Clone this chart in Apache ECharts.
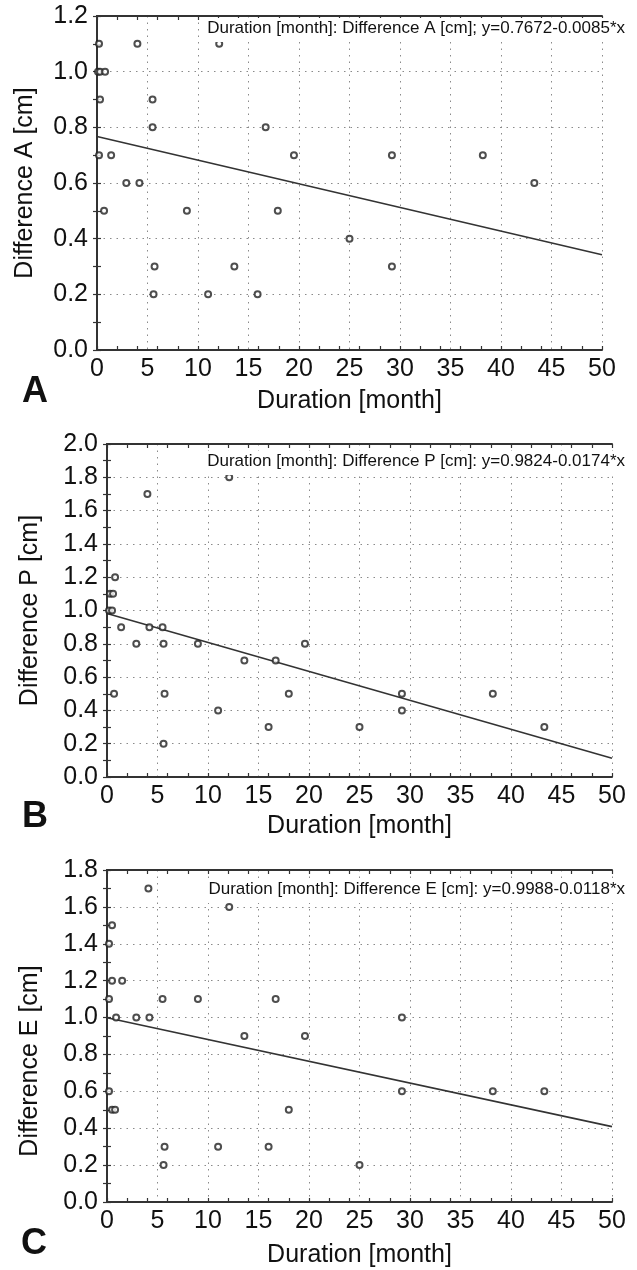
<!DOCTYPE html>
<html><head><meta charset="utf-8">
<script src="https://cdn.jsdelivr.net/npm/echarts@6/dist/echarts.min.js"></script>
<style>html,body{margin:0;padding:0;background:#fff}#c{width:637px;height:1270px}</style>
</head><body><div id="c"></div>
<script>
// ---------- DATA ----------
const xTicks = [0, 5, 10, 15, 20, 25, 30, 35, 40, 45, 50];
const xName = 'Duration [month]';

// Panel A
const durationA = [0.2, 4.0, 12.1, 0.1, 0.3, 0.8, 0.3, 5.5, 5.5, 16.7, 0.2, 1.4, 19.5, 29.2, 38.2, 2.9, 4.2, 43.3, 0.7, 8.9, 17.9, 25.0, 5.7, 13.6, 29.2, 5.6, 11.0, 15.9];
const diffA     = [1.1, 1.1, 1.1, 1.0, 1.0, 1.0, 0.9, 0.9, 0.8, 0.8, 0.7, 0.7, 0.7, 0.7, 0.7, 0.6, 0.6, 0.6, 0.5, 0.5, 0.5, 0.4, 0.3, 0.3, 0.3, 0.2, 0.2, 0.2];
const fitA = ['0.7672', '0.0085'];   // intercept, slope (y = a - b*x)

// Panel B
const durationB = [12.1, 4.0, 0.8, 0.3, 0.6, 0.2, 0.5, 1.4, 4.2, 5.5, 2.9, 5.6, 9.0, 19.6, 13.6, 16.7, 0.7, 5.7, 18.0, 29.2, 38.2, 11.0, 29.2, 16.0, 25.0, 43.3, 5.6];
const diffB     = [1.8, 1.7, 1.2, 1.1, 1.1, 1.0, 1.0, 0.9, 0.9, 0.9, 0.8, 0.8, 0.8, 0.8, 0.7, 0.7, 0.5, 0.5, 0.5, 0.5, 0.5, 0.4, 0.4, 0.3, 0.3, 0.3, 0.2];
const fitB = ['0.9824', '0.0174'];

// Panel C
const durationC = [4.1, 12.1, 0.5, 0.2, 0.5, 1.5, 0.2, 5.5, 9.0, 16.7, 0.9, 2.9, 4.2, 29.2, 13.6, 19.6, 0.2, 29.2, 38.2, 43.3, 0.5, 0.8, 18.0, 5.7, 11.0, 16.0, 5.6, 25.0];
const diffC     = [1.7, 1.6, 1.5, 1.4, 1.2, 1.2, 1.1, 1.1, 1.1, 1.1, 1.0, 1.0, 1.0, 1.0, 0.9, 0.9, 0.6, 0.6, 0.6, 0.6, 0.5, 0.5, 0.5, 0.3, 0.3, 0.3, 0.2, 0.2];
const fitC = ['0.9988', '0.0118'];

const panelLetters = ['A', 'B', 'C'];
const yNames = ['Difference A [cm]', 'Difference P [cm]', 'Difference E [cm]'];
const fitNames = ['Difference A [cm];', 'Difference P [cm]:', 'Difference E [cm]:'];
const yMaxes = [1.2, 2.0, 1.8];

// ---------- LAYOUT / STYLE ----------
const FONT = "'Liberation Sans', Arial, sans-serif";
const AX = '#333';
const layout = [
  {left: 97,  top: 16,  height: 334, xGap: 39, yGap: 59.5, yPad: [0,0,0,0], titleTop: 18, letter: [35, 392]},
  {left: 107, top: 444, height: 333, xGap: 36.5, yGap: 64, yPad: [0,0,0,0], titleTop: 451, letter: [35, 817]},
  {left: 107, top: 870, height: 332, xGap: 40.5, yGap: 64, yPad: [0,50,0,0], titleTop: 879, letter: [34, 1244]}
];
const PW = 505;

const xs = [durationA, durationB, durationC];
const ys = [diffA, diffB, diffC];
const fits = [fitA, fitB, fitC];

const grid = [], xAxis = [], yAxis = [], series = [], title = [], graphic = [];
const dotted = {show: true, lineStyle: {color: '#8a8a8a', type: [1.5, 5], width: 1}};

layout.forEach((L, i) => {
  grid.push({left: L.left, top: L.top, width: PW, height: L.height, containLabel: false});
  const xMin = xTicks[0], xMax = xTicks[xTicks.length - 1], xInt = xTicks[1] - xTicks[0];
  // main bottom x axis
  xAxis.push({
    gridIndex: i, type: 'value', min: xMin, max: xMax, interval: xInt, position: 'bottom',
    axisLine: {show: true, lineStyle: {color: AX, width: 2}},
    axisTick: {show: false},
    axisLabel: {fontFamily: FONT, fontSize: 25, color: '#111', margin: 7},
    splitLine: dotted,
    name: xName, nameLocation: 'middle', nameGap: L.xGap,
    nameTextStyle: {fontFamily: FONT, fontSize: 25, color: '#111'}
  });
  // bottom small ticks
  xAxis.push({
    gridIndex: i, type: 'value', min: xMin, max: xMax, interval: 2, position: 'bottom',
    axisLine: {show: false}, axisLabel: {show: false}, splitLine: {show: false},
    axisTick: {show: true, inside: true, length: 4, lineStyle: {color: AX, width: 1.2}}
  });
  // top axis (border + ticks)
  xAxis.push({
    gridIndex: i, type: 'value', min: xMin, max: xMax, interval: 2, position: 'top',
    axisLine: {show: true, lineStyle: {color: AX, width: 2}}, axisLabel: {show: false}, splitLine: {show: false},
    axisTick: {show: true, inside: true, length: 4, lineStyle: {color: AX, width: 1.2}}
  });
  yAxis.push({
    gridIndex: i, type: 'value', min: 0, max: yMaxes[i], interval: 0.2, position: 'left',
    axisLine: {show: true, lineStyle: {color: AX, width: 2}},
    axisTick: {show: true, inside: true, length: 4, lineStyle: {color: AX, width: 1.2}},
    minorTick: {show: true, splitNumber: 2, length: 4, lineStyle: {color: AX, width: 1.2}},
    axisLabel: {fontFamily: FONT, fontSize: 25, color: '#111', margin: 9, formatter: v => v.toFixed(1)},
    splitLine: dotted,
    name: yNames[i], nameLocation: 'middle', nameGap: L.yGap,
    nameTextStyle: {fontFamily: FONT, fontSize: 25, color: '#111', padding: L.yPad}
  });
  yAxis.push({
    gridIndex: i, type: 'value', min: 0, max: yMaxes[i], interval: 0.2, position: 'right',
    axisLine: {show: true, lineStyle: {color: AX, width: 2}},
    axisTick: {show: true, inside: true, length: 4, lineStyle: {color: AX, width: 1.2}},
    minorTick: {show: true, splitNumber: 2, length: 4, lineStyle: {color: AX, width: 1.2}},
    axisLabel: {show: false}, splitLine: {show: false}
  });
  const a = parseFloat(fits[i][0]), b = parseFloat(fits[i][1]);
  series.push({
    type: 'line', xAxisIndex: 3 * i, yAxisIndex: 2 * i, symbol: 'none', silent: true,
    data: [[xMin, a - b * xMin], [xMax, a - b * xMax]],
    lineStyle: {color: '#333', width: 1.6}, z: 2
  });
  series.push({
    type: 'scatter', xAxisIndex: 3 * i, yAxisIndex: 2 * i, symbol: 'emptyCircle', symbolSize: 6,
    data: xs[i].map((x, k) => [x, ys[i][k]]),
    itemStyle: {color: '#222', borderWidth: 1.4}, z: 3, clip: false
  });
  title.push({
    text: 'Duration [month]: ' + fitNames[i] + ' y=' + fits[i][0] + '-' + fits[i][1] + '*x',
    right: 10, top: L.titleTop, backgroundColor: '#fff', padding: [2, 2, 5, 2],
    textStyle: {fontFamily: FONT, fontSize: 17, fontWeight: 'normal', color: '#111'}
  });
  graphic.push({
    type: 'text', x: L.letter[0], y: L.letter[1],
    style: {text: panelLetters[i], font: "bold 36px 'Liberation Sans', Arial, sans-serif", fill: '#111', textAlign: 'center', textVerticalAlign: 'middle'}
  });
});

const chart = echarts.init(document.getElementById('c'), null, {renderer: 'canvas'});
chart.setOption({backgroundColor: '#fff', animation: false, grid, xAxis, yAxis, series, title, graphic});
</script></body></html>
